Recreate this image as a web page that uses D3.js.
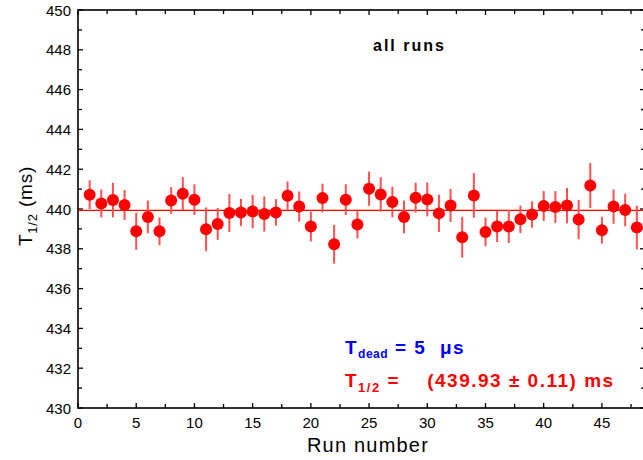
<!DOCTYPE html>
<html>
<head>
<meta charset="utf-8">
<script src="https://cdn.jsdelivr.net/npm/d3@7"></script>
<style>
  body { margin: 0; background: #fff; }
  svg { display: block; font-family: "Liberation Sans", Arial, sans-serif; }
</style>
</head>
<body>
<svg id="chart" width="643" height="460"></svg>
<script>
// Run numbers, measured half-lives (ms) and their errors
const runs = d3.range(1, 49);
const halfLife = [
  440.72, 440.28, 440.45, 440.2, 438.88, 439.6, 438.88, 440.43, 440.77, 440.47,
  438.98, 439.25, 439.8, 439.83, 439.87, 439.75, 439.83, 440.67, 440.12, 439.12,
  440.55, 438.23, 440.47, 439.22, 441.02, 440.73, 440.35, 439.6, 440.57, 440.48,
  439.78, 440.18, 438.58, 440.68, 438.85, 439.12, 439.12, 439.48, 439.72, 440.15,
  440.1, 440.17, 439.47, 441.18, 438.93, 440.12, 439.95, 439.07
];
const halfLifeErr = [
  0.72, 0.7, 0.87, 0.75, 0.93, 0.82, 0.7, 0.67, 0.83, 0.77,
  1.1, 0.8, 0.96, 0.68, 0.84, 0.88, 0.67, 0.71, 0.76, 0.75,
  0.72, 0.97, 0.77, 0.7, 0.86, 0.87, 0.77, 0.82, 0.75, 0.85,
  0.94, 0.83, 1.02, 1.12, 0.72, 0.78, 0.83, 0.69, 0.66, 0.75,
  0.8, 0.89, 0.99, 1.13, 0.67, 0.86, 0.82, 1.1
];
const meanHalfLife = 439.93;
const xTicks = [0, 5, 10, 15, 20, 25, 30, 35, 40, 45];
const yTicks = [430, 432, 434, 436, 438, 440, 442, 444, 446, 448, 450];

const svg = d3.select('#chart');
const pLeft = 78, pRight = 645, pTop = 10, pBottom = 408;

const x = d3.scaleLinear().domain([0, 48.7]).range([pLeft, pRight]);
const y = d3.scaleLinear().domain([430, 450]).range([pBottom, pTop]);

const minorX = d3.range(0, 48.7, 2.5);
const minorY = d3.range(430, 450.1, 1);

// frame
svg.append('rect')
  .attr('x', pLeft).attr('y', pTop)
  .attr('width', pRight - pLeft).attr('height', pBottom - pTop)
  .attr('fill', 'none').attr('stroke', '#000').attr('stroke-width', 1.6);

// ticks pointing inward on all sides
const tickG = svg.append('g').attr('stroke', '#000').attr('stroke-width', 1.3);
minorX.forEach(v => {
  const len = v % 5 === 0 ? 5 : 4;
  tickG.append('line').attr('x1', x(v)).attr('x2', x(v)).attr('y1', pBottom).attr('y2', pBottom - len);
  tickG.append('line').attr('x1', x(v)).attr('x2', x(v)).attr('y1', pTop).attr('y2', pTop + len);
});
minorY.forEach(v => {
  const len = v % 2 === 0 ? 5 : 4;
  tickG.append('line').attr('x1', pLeft).attr('x2', pLeft + len).attr('y1', y(v)).attr('y2', y(v));
  tickG.append('line').attr('x1', pRight).attr('x2', pRight - len).attr('y1', y(v)).attr('y2', y(v));
});

// tick labels
svg.append('g').selectAll('text').data(xTicks).join('text')
  .attr('x', d => x(d)).attr('y', 428)
  .attr('text-anchor', 'middle').attr('font-size', 15)
  .text(d => d);
svg.append('g').selectAll('text').data(yTicks).join('text')
  .attr('x', 71).attr('y', d => y(d) + 5.5)
  .attr('text-anchor', 'end').attr('font-size', 15)
  .text(d => d);

// axis titles
svg.append('text')
  .attr('x', 368).attr('y', 452)
  .attr('text-anchor', 'middle').attr('font-size', 20)
  .attr('letter-spacing', 1.2)
  .text('Run number');

const yTitle = svg.append('text')
  .attr('transform', 'translate(32,206) rotate(-90)')
  .attr('text-anchor', 'middle').attr('font-size', 19)
  .attr('letter-spacing', 0.8);
yTitle.append('tspan').text('T');
yTitle.append('tspan').attr('font-size', 13).attr('dy', 5).text('1/2');
yTitle.append('tspan').attr('dy', -5).text(' (ms)');

// mean line
svg.append('line')
  .attr('x1', pLeft).attr('x2', pRight)
  .attr('y1', y(meanHalfLife)).attr('y2', y(meanHalfLife))
  .attr('stroke', '#ff0000').attr('stroke-width', 1.4);

const data = runs.map((r, i) => ({ run: r, v: halfLife[i], e: halfLifeErr[i] }));

// error bars
svg.append('g').selectAll('line').data(data).join('line')
  .attr('x1', d => x(d.run)).attr('x2', d => x(d.run))
  .attr('y1', d => y(d.v - d.e)).attr('y2', d => y(d.v + d.e))
  .attr('stroke', '#ff5050').attr('stroke-width', 2);

// points
svg.append('g').selectAll('circle').data(data).join('circle')
  .attr('cx', d => x(d.run)).attr('cy', d => y(d.v))
  .attr('r', 6).attr('fill', '#ff0000');

// annotations
svg.append('text')
  .attr('x', 373).attr('y', 51)
  .attr('font-size', 16).attr('font-weight', 'bold')
  .attr('letter-spacing', 2)
  .text('all runs');

const tdead = svg.append('text')
  .attr('x', 345).attr('y', 354)
  .attr('font-size', 19).attr('font-weight', 'bold').attr('fill', '#0000ff')
  .attr('letter-spacing', 1.5).attr('xml:space', 'preserve');
tdead.append('tspan').text('T');
tdead.append('tspan').attr('font-size', 12).attr('dy', 4).attr('letter-spacing', 0.5).text('dead');
tdead.append('tspan').attr('dy', -4).text(' = 5  μs');

const tres = svg.append('text')
  .attr('x', 345).attr('y', 387)
  .attr('font-size', 19).attr('font-weight', 'bold').attr('fill', '#ff0000')
  .attr('letter-spacing', 1.5).attr('xml:space', 'preserve');
tres.append('tspan').text('T');
tres.append('tspan').attr('font-size', 13).attr('dy', 5).text('1/2');
tres.append('tspan').attr('dy', -5).text(' =    (439.93 ± 0.11) ms');
</script>
</body>
</html>
